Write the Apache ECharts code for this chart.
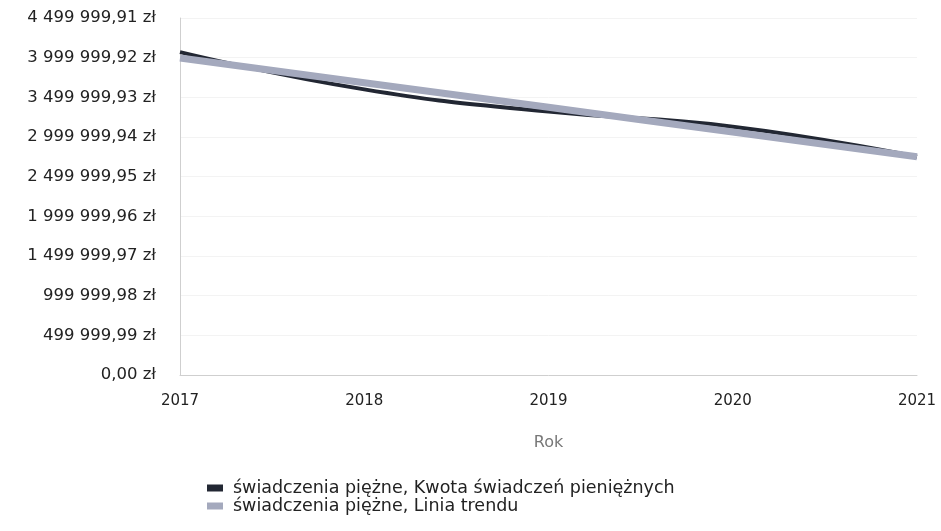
<!DOCTYPE html>
<html><head><meta charset="utf-8">
<script src="https://cdn.jsdelivr.net/npm/echarts@6/dist/echarts.min.js"></script>
<style>html,body{margin:0;padding:0;background:#fff}#c{width:941px;height:531px}</style>
</head><body><div id="c"></div>
<script>
const years = ['2017', '2018', '2019', '2020', '2021'];
const kwota = [4070000, 3600000, 3320000, 3130000, 2750000];
const trend = [3996000, 3685000, 3374000, 3063000, 2752000];
const seriesNames = ['świadczenia piężne, Kwota świadczeń pieniężnych', 'świadczenia piężne, Linia trendu'];
const yInterval = 499999.99;
const yMax = 4499999.91;

function fmt(v) {
  const s = (Math.round(v * 100) / 100).toFixed(2);
  const [i, d] = s.split('.');
  return i.replace(/\B(?=(\d{3})+(?!\d))/g, ' ') + ',' + d + ' zł';
}
const FONT = 'DejaVu Sans';
const chart = echarts.init(document.getElementById('c'));
chart.setOption({
  animation: false,
  grid: { left: 180, right: 24, top: 18, bottom: 156 },
  legend: {
    orient: 'vertical', left: 202, top: 474, itemGap: 0,
    itemWidth: 16, itemHeight: 7, icon: 'rect',
    textStyle: { fontFamily: FONT, fontSize: 17.5, lineHeight: 18, color: '#222', padding: [0, 0, 0, 5] },
    data: seriesNames
  },
  xAxis: {
    type: 'category', data: years, boundaryGap: false,
    name: 'Rok', nameLocation: 'middle', nameGap: 60,
    nameTextStyle: { fontFamily: FONT, fontSize: 16, color: '#777' },
    axisLine: { lineStyle: { color: '#cfcfcf' } },
    axisTick: { show: false },
    axisLabel: { fontFamily: FONT, fontSize: 15, color: '#222', margin: 19 }
  },
  yAxis: {
    type: 'value', min: 0, max: yMax, interval: yInterval,
    axisLine: { show: true, lineStyle: { color: '#cfcfcf' } },
    axisTick: { show: false },
    splitLine: { lineStyle: { color: '#f3f3f3' } },
    axisLabel: { fontFamily: FONT, fontSize: 16.5, color: '#222', margin: 24, formatter: fmt }
  },
  series: [
    { name: seriesNames[0], type: 'line', data: kwota, smooth: true, symbol: 'none',
      lineStyle: { color: '#222733', width: 4 }, itemStyle: { color: '#222733' } },
    { name: seriesNames[1], type: 'line', data: trend, smooth: true, symbol: 'none',
      lineStyle: { color: '#a4a9bd', width: 7 }, itemStyle: { color: '#a4a9bd' } }
  ]
});
</script></body></html>
